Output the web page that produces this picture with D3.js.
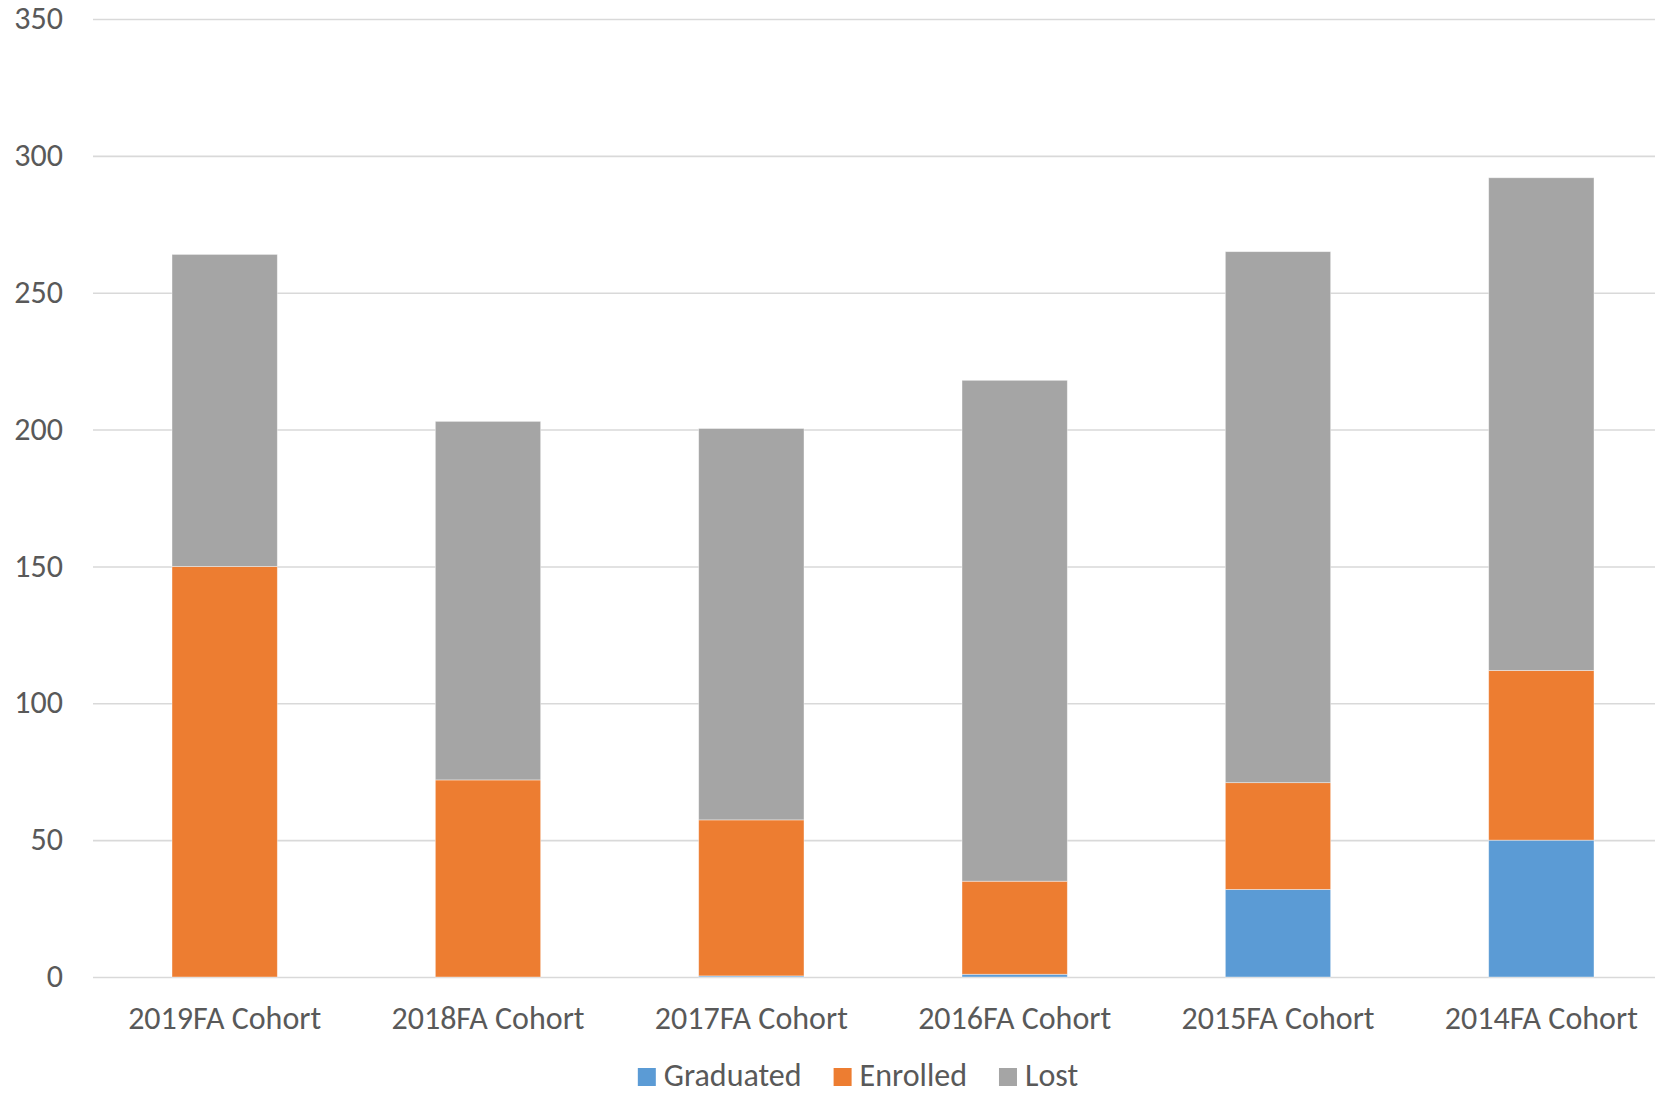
<!DOCTYPE html>
<html>
<head>
<meta charset="utf-8">
<script src="https://cdn.jsdelivr.net/npm/d3@7"></script>
<style>
  body { margin: 0; background: #fff; }
  svg { display: block; font-family: Carlito, Lato, "Open Sans", sans-serif; }
</style>
</head>
<body>
<svg id="chart"></svg>
<script>
// cohort outcomes, stacked
const categories = ["2019FA Cohort", "2018FA Cohort", "2017FA Cohort", "2016FA Cohort", "2015FA Cohort", "2014FA Cohort"];
const graduated = [0, 0, 0.4, 1, 32, 50];
const enrolled = [150, 72, 57, 34, 39, 62];
const lost = [114, 131, 143, 183, 194, 180];
const seriesNames = ["Graduated", "Enrolled", "Lost"];
const yTicks = [0, 50, 100, 150, 200, 250, 300, 350];

const width = 1655;
const height = 1094;
const colors = { Graduated: "#5b9bd5", Enrolled: "#ed7d31", Lost: "#a5a5a5" };
const textColor = "#595959";
const fontSize = 32;
const fontFamily = "Carlito, Lato, 'Open Sans', sans-serif";

const svg = d3.select("#chart").attr("width", width).attr("height", height);

const rows = categories.map((c, i) => ({
  cat: c,
  Graduated: graduated[i],
  Enrolled: enrolled[i],
  Lost: lost[i]
}));

// plot area runs past the right edge (the original is cropped)
const left = 93, right = 1673;

const x = d3.scaleBand()
  .domain(categories)
  .range([left, right])
  .paddingInner(0.6)
  .paddingOuter(0.3);

const y = d3.scaleLinear()
  .domain([0, 350])
  .range([977, 19]);

// gridlines + y labels
const yAxis = d3.axisLeft(y)
  .tickValues(yTicks)
  .tickSize(-(right - left))
  .tickPadding(30);

const gy = svg.append("g")
  .attr("transform", `translate(${left},0)`)
  .call(yAxis);
gy.select(".domain").remove();
gy.selectAll(".tick line").attr("stroke", "#d9d9d9").attr("stroke-width", 1.6);
gy.selectAll(".tick text")
  .attr("fill", textColor)
  .attr("dy", "0.3em")
  .style("font-size", fontSize + "px")
  .style("font-family", fontFamily);

// bars
const stacked = d3.stack().keys(seriesNames)(rows);

svg.append("g")
  .selectAll("g")
  .data(stacked)
  .join("g")
  .attr("fill", d => colors[d.key])
  .selectAll("rect")
  .data(d => d)
  .join("rect")
  .attr("x", d => x(d.data.cat))
  .attr("width", x.bandwidth())
  .attr("y", d => y(d[1]))
  .attr("height", d => y(d[0]) - y(d[1]))
  .attr("stroke", "#fff")
  .attr("stroke-opacity", 0.5)
  .attr("stroke-width", 0.8);

// category labels
const xAxis = d3.axisBottom(x).tickSize(0);
const gx = svg.append("g")
  .attr("transform", `translate(0,${y(0)})`)
  .call(xAxis);
gx.select(".domain").remove();
gx.selectAll(".tick text")
  .attr("y", 52)
  .attr("dy", 0)
  .attr("fill", textColor)
  .style("font-size", fontSize + "px")
  .style("font-family", fontFamily);

// legend, centred under the chart
const legend = svg.append("g").attr("class", "legend");
const items = legend.selectAll("g")
  .data(seriesNames)
  .join("g");

items.append("rect")
  .attr("width", 18)
  .attr("height", 18)
  .attr("y", -18)
  .attr("fill", d => colors[d]);

items.append("text")
  .attr("x", 26)
  .attr("fill", textColor)
  .style("font-size", fontSize + "px")
  .text(d => d);

let offset = 0;
items.each(function () {
  const g = d3.select(this);
  g.attr("transform", `translate(${offset},0)`);
  const w = 26 + g.select("text").node().getComputedTextLength();
  offset += w + 32;
});
const legendWidth = offset - 32;
legend.attr("transform", `translate(${858 - legendWidth / 2},1086)`);
</script>
</body>
</html>
